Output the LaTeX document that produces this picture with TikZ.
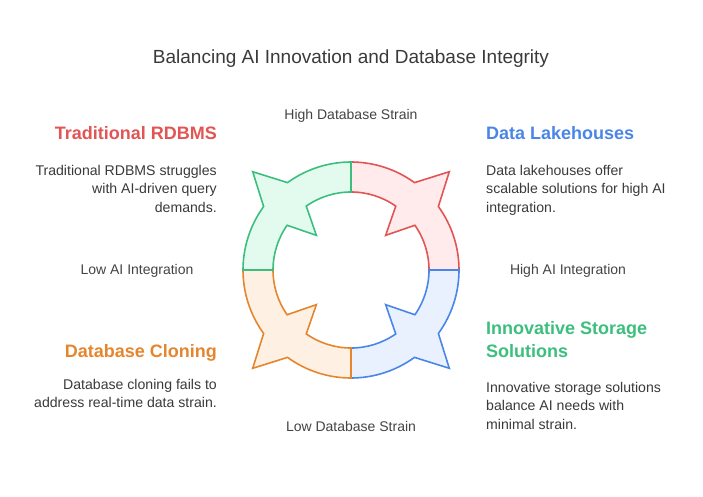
\documentclass[tikz,border=0pt]{standalone}
\usepackage{fontspec}
\setmainfont{Liberation Sans}
\definecolor{cred}{HTML}{E15554}
\definecolor{fred}{HTML}{FFEBEB}
\definecolor{cblue}{HTML}{4A86E8}
\definecolor{fblue}{HTML}{EAF1FE}
\definecolor{cgreen}{HTML}{3CBF7E}
\definecolor{fgreen}{HTML}{E3FBEE}
\definecolor{corange}{HTML}{E5862F}
\definecolor{forange}{HTML}{FEF1E4}
\definecolor{ctext}{HTML}{3A3A3A}
\definecolor{clabel}{HTML}{444444}
\tikzset{
  seg/.style={line width=1.6pt, line join=miter},
  head/.style={font=\fontsize{18}{21}\selectfont\bfseries, inner sep=0pt},
  body/.style={font=\fontsize{14.1}{18.5}\selectfont, text=ctext, inner sep=0pt},
  axis/.style={font=\fontsize{14}{17}\selectfont, text=clabel, inner sep=0pt},
}
\newcommand{\segpath}{(90:108) arc[start angle=90,end angle=54,radius=108] -- (45:139) -- (36:108) arc[start angle=36,end angle=0,radius=108] -- (0:78) arc[start angle=0,end angle=35,radius=78] -- (45:49) -- (55:78) arc[start angle=55,end angle=90,radius=78] -- cycle}
\begin{document}
\begin{tikzpicture}[x=1pt,y=1pt]
\useasboundingbox[fill=white] (0,0) rectangle (703,496);
% ring
\begin{scope}[shift={(351,226)}]
  \draw[seg, draw=cred, fill=fred] \segpath;
  \begin{scope}[rotate=-90]\draw[seg, draw=cblue, fill=fblue] \segpath;\end{scope}
  \begin{scope}[rotate=-180]\draw[seg, draw=corange, fill=forange] \segpath;\end{scope}
  \begin{scope}[rotate=90]\draw[seg, draw=cgreen, fill=fgreen] \segpath;\end{scope}
\end{scope}
% title
\node[font=\fontsize{19}{22}\selectfont, text=ctext, inner sep=0pt] (title) at (351,437) {Balancing AI Innovation and Database Integrity};
% axis labels
\node[axis] (top) at (351,380) {High Database Strain};
\node[axis] (bot) at (351,70) {Low Database Strain};
\node[axis] (left) at (137,225) {Low AI Integration};
\node[axis] (right) at (568,225) {High AI Integration};
% top-left
\node[head, text=cred, anchor=east] (h1) at (217,363) {Traditional RDBMS};
\node[body, anchor=north east, align=right] (b1) at (217,331) {Traditional RDBMS struggles\\with AI-driven query\\demands.};
% top-right
\node[head, text=cblue, anchor=west] (h2) at (486,363) {Data Lakehouses};
\node[body, anchor=north west, align=left] (b2) at (486,331) {Data lakehouses offer\\scalable solutions for high AI\\integration.};
% bottom-left
\node[head, text=corange, anchor=east] (h3) at (217,143) {Database Cloning};
\node[body, anchor=north east, align=right] (b3) at (217,117) {Database cloning fails to\\address real-time data strain.};
% bottom-right
\node[head, text=cgreen, anchor=north west, align=left, font=\fontsize{18}{23}\selectfont\bfseries] (h4) at (486,175) {Innovative Storage\\Solutions};
\node[body, anchor=north west, align=left] (b4) at (486,114) {Innovative storage solutions\\balance AI needs with\\minimal strain.};
\end{tikzpicture}
\end{document}
